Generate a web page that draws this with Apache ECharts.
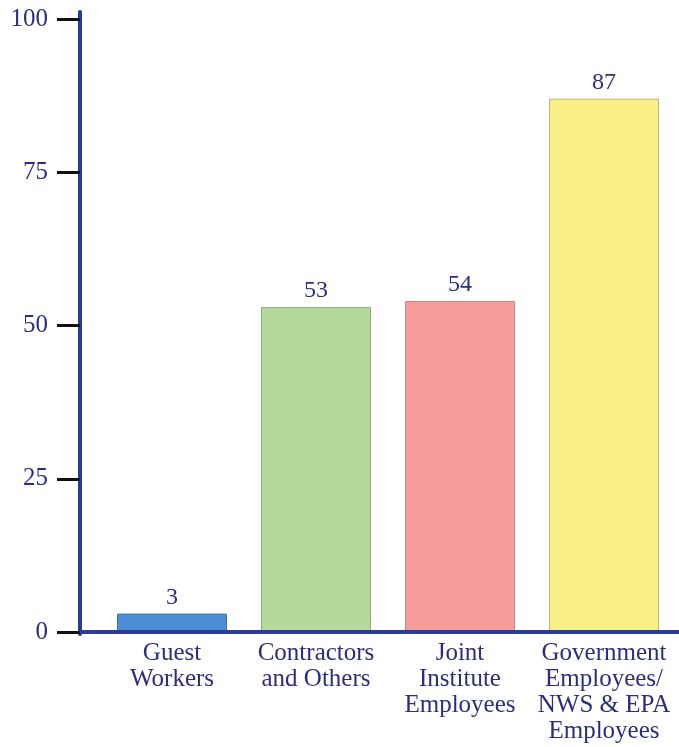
<!DOCTYPE html>
<html>
<head>
<meta charset="utf-8">
<script src="https://cdn.jsdelivr.net/npm/echarts@6/dist/echarts.min.js"></script>
<style>
  html, body { margin: 0; padding: 0; background: #ffffff; }
  #chart { width: 679px; height: 747px; }
</style>
</head>
<body>
<div id="chart"></div>
<script>
// Workforce counts by employee group
const categories = [
  'Guest\nWorkers',
  'Contractors\nand Others',
  'Joint\nInstitute\nEmployees',
  'Government\nEmployees/\nNWS & EPA\nEmployees'
];
const values = [3, 53, 54, 87];
const barColors = ['#4d8fd5', '#b3d99b', '#f59c9c', '#f8ef86'];
const barBorders = ['#3c6fa6', '#8fae7c', '#c98484', '#bdb573'];
const yTicks = [0, 25, 50, 75, 100];

const axisBlue = '#2b3a94';
const textNavy = '#2d2d7f';
const serif = '"Liberation Serif", "DejaVu Serif", serif';

const chart = echarts.init(document.getElementById('chart'), null, { renderer: 'canvas' });

chart.setOption({
  animation: false,
  backgroundColor: '#ffffff',
  grid: [
    // frame grid: value scale, ticks and the horizontal base line
    { left: 80, right: 0, top: 19, bottom: 115 },
    // plotting grid: holds the bars and category labels
    { left: 100, right: 3, top: 19, bottom: 115 },
    // vertical spine, running a little past the top tick
    { left: 80, right: 0, top: 12, bottom: 113 }
  ],
  xAxis: [
    {
      gridIndex: 0,
      type: 'value',
      min: 0, max: 1,
      z: 5,
      axisLine: { show: true, lineStyle: { color: axisBlue, width: 4 } },
      axisTick: { show: false },
      axisLabel: { show: false },
      splitLine: { show: false }
    },
    {
      gridIndex: 1,
      type: 'category',
      data: categories,
      axisLine: { show: false },
      axisTick: { show: false },
      axisLabel: {
        color: textNavy,
        fontFamily: serif,
        fontSize: 25,
        lineHeight: 26,
        margin: 8,
        interval: 0,
        align: 'center'
      }
    },
    {
      gridIndex: 2,
      type: 'value',
      min: 0, max: 1,
      show: false
    }
  ],
  yAxis: [
    {
      gridIndex: 0,
      type: 'value',
      min: yTicks[0],
      max: yTicks[yTicks.length - 1],
      interval: yTicks[1] - yTicks[0],
      z: 5,
      axisLine: { show: false },
      axisTick: { show: true, length: 23, lineStyle: { color: '#111111', width: 3 } },
      axisLabel: {
        color: textNavy,
        fontFamily: serif,
        fontSize: 25,
        margin: 32,
        padding: [6, 0, 0, 0]
      },
      splitLine: { show: false }
    },
    {
      gridIndex: 1,
      type: 'value',
      min: yTicks[0],
      max: yTicks[yTicks.length - 1],
      show: false
    },
    {
      gridIndex: 2,
      type: 'value',
      min: 0, max: 1,
      z: 5,
      axisLine: { show: true, lineStyle: { color: axisBlue, width: 4 } },
      axisTick: { show: false },
      axisLabel: { show: false },
      splitLine: { show: false }
    }
  ],
  series: [
    {
      type: 'bar',
      xAxisIndex: 1,
      yAxisIndex: 1,
      barWidth: 110,
      data: values.map((v, i) => ({
        value: v,
        itemStyle: { color: barColors[i], borderColor: barBorders[i], borderWidth: 1 }
      })),
      label: {
        show: true,
        position: 'top',
        distance: 4,
        color: textNavy,
        fontFamily: serif,
        fontSize: 24
      }
    }
  ]
});
</script>
</body>
</html>
